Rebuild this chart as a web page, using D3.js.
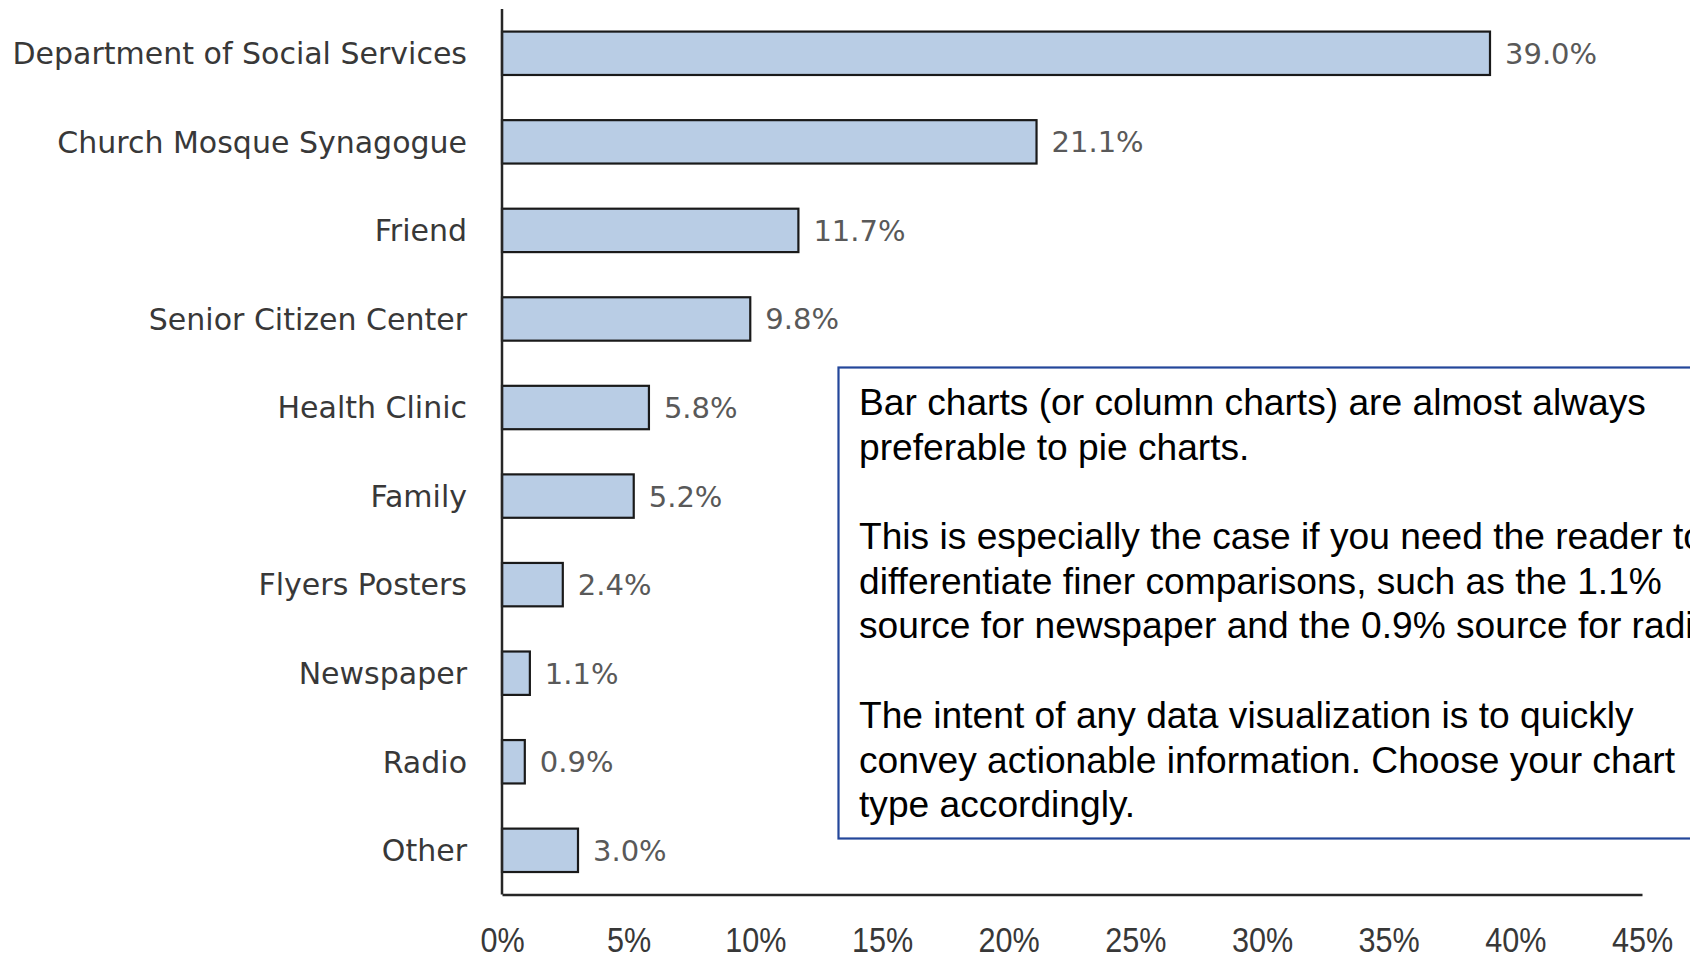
<!DOCTYPE html>
<meta charset="utf-8">
<style>
	body { margin: 0; background: #fff; }
	svg { display: block; }
	.cat { font-family: "DejaVu Sans", sans-serif; font-size: 30px; fill: #383838; }
	.val { font-family: "DejaVu Sans", sans-serif; font-size: 29px; fill: #595959; }
	.tick text { font-family: "Liberation Sans", Arial, sans-serif; font-size: 36px; fill: #383838; }
	.note { font-family: "Liberation Sans", Arial, sans-serif; font-size: 37px; fill: #000; }
</style>
<body>
<script src="https://cdn.jsdelivr.net/npm/d3@7"></script>
<script>

// categories and shares (percent)
var categories = ["Department of Social Services", "Church Mosque Synagogue", "Friend",
	"Senior Citizen Center", "Health Clinic", "Family", "Flyers Posters", "Newspaper", "Radio", "Other"];
var values = [39.0, 21.1, 11.7, 9.8, 5.8, 5.2, 2.4, 1.1, 0.9, 3.0];
var xTicks = [0, 5, 10, 15, 20, 25, 30, 35, 40, 45];

var noteLines = [
	"Bar charts (or column charts) are almost always",
	"preferable to pie charts.",
	"",
	"This is especially the case if you need the reader to",
	"differentiate finer comparisons, such as the 1.1%",
	"source for newspaper and the 0.9% source for radio.",
	"",
	"The intent of any data visualization is to quickly",
	"convey actionable information. Choose your chart",
	"type accordingly."
];

var width = 1690, height = 955;
// plot edges (named so they don't clash with window.top)
var plotLeft = 502, plotRight = 1642, plotTop = 9, plotBottom = 894.6;

var svg = d3.select("body").append("svg")
	.attr("width", width)
	.attr("height", height);

var x = d3.scaleLinear().domain([0, 45]).range([plotLeft, plotRight]);
var y = d3.scaleBand().domain(categories).range([plotTop, plotBottom])
	.paddingInner(0.51).paddingOuter(0.255);

var data = categories.map(function(c, i) { return {name: c, value: values[i]}; });

// bars
svg.append("g").selectAll("rect")
	.data(data)
	.enter().append("rect")
	.attr("x", x(0))
	.attr("y", function(d) { return y(d.name); })
	.attr("width", function(d) { return x(d.value) - x(0); })
	.attr("height", y.bandwidth())
	.attr("fill", "#B9CDE5")
	.attr("stroke", "#1a1a1a")
	.attr("stroke-width", 2.2);

// value labels
svg.append("g").selectAll("text")
	.data(data)
	.enter().append("text")
	.attr("class", "val")
	.attr("x", function(d) { return x(d.value) + 15; })
	.attr("y", function(d) { return y(d.name) + y.bandwidth() / 2; })
	.attr("dy", "0.36em")
	.text(function(d) { return d.value.toFixed(1) + "%"; });

// category labels
svg.append("g").selectAll("text")
	.data(categories)
	.enter().append("text")
	.attr("class", "cat")
	.attr("x", plotLeft - 35)
	.attr("y", function(d) { return y(d) + y.bandwidth() / 2; })
	.attr("dy", "0.36em")
	.attr("text-anchor", "end")
	.text(function(d) { return d; });

// axis lines
svg.append("line")
	.attr("x1", plotLeft).attr("x2", plotLeft).attr("y1", plotTop).attr("y2", plotBottom)
	.attr("stroke", "#262626").attr("stroke-width", 2.5);

var xAxis = svg.append("g")
	.attr("transform", "translate(0," + plotBottom + ")")
	.call(d3.axisBottom(x).tickValues(xTicks).tickSize(0).tickPadding(0)
		.tickFormat(function(d) { return d + "%"; }));
xAxis.select(".domain").attr("stroke", "#262626").attr("stroke-width", 2.5);
xAxis.selectAll(".tick text")
	.attr("y", 0).attr("dy", 0)
	.attr("transform", "translate(0,57) scale(0.85,1)");

// note box
var box = svg.append("g");
box.append("rect")
	.attr("x", 838.5).attr("y", 367.5)
	.attr("width", 900).attr("height", 471)
	.attr("fill", "#fff")
	.attr("stroke", "#24479A").attr("stroke-width", 2.2);

var noteG = box.append("g");
var noteText = noteG.selectAll("text")
	.data(noteLines)
	.enter().append("text")
	.attr("class", "note")
	.attr("x", 0)
	.attr("y", function(d, i) { return i * 44.7; })
	.text(function(d) { return d; });

// the note font is a condensed face; squeeze to match
var w0 = noteText.node().getComputedTextLength();
var sx = 787 / w0;
noteG.attr("transform", "translate(859,415) scale(" + sx + ",1)");

</script>
</body>
</html>
